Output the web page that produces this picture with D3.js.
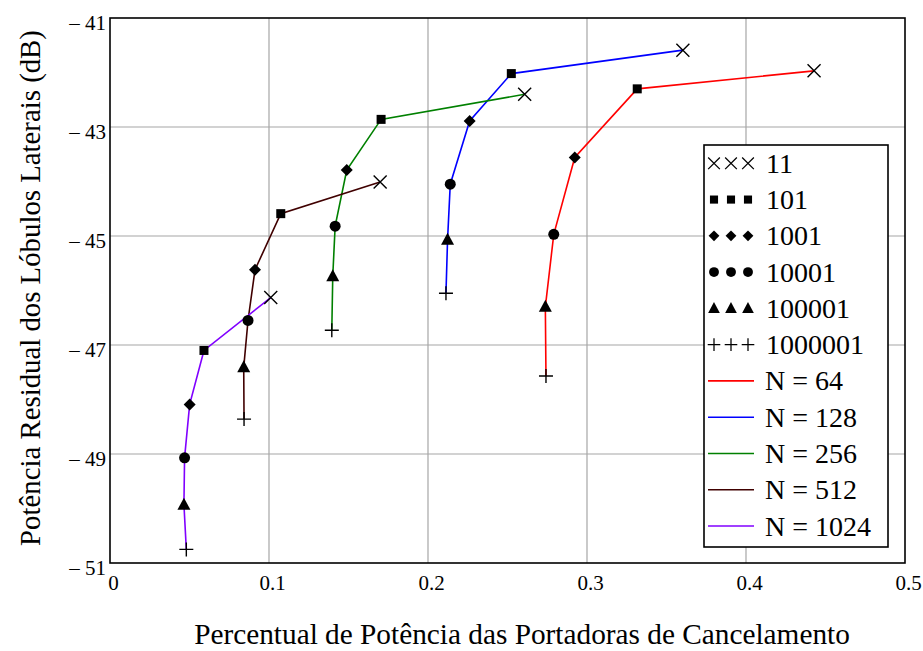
<!DOCTYPE html>
<html><head><meta charset="utf-8">
<script src="https://cdn.jsdelivr.net/npm/d3@7"></script>
<style>body{margin:0;background:#fff;} svg{display:block;}</style>
</head><body>
<script>
// Marker categories (legend)
const markerLabels = ["11", "101", "1001", "10001", "100001", "1000001"];
const markerTypes = ["x", "square", "diamond", "circle", "triangle", "plus"];
// Series
const seriesNames = ["N = 64", "N = 128", "N = 256", "N = 512", "N = 1024"];
const seriesColors = ["#ff0000", "#0000ff", "#008000", "#400000", "#8000ff"];
const xN64 = [0.4428, 0.3316, 0.2923, 0.2791, 0.2738, 0.2742];
const yN64 = [-41.97, -42.30, -43.56, -44.97, -46.30, -47.57];
const xN128 = [0.3603, 0.2524, 0.2262, 0.2140, 0.2123, 0.2113];
const yN128 = [-41.59, -42.02, -42.89, -44.05, -45.07, -46.05];
const xN256 = [0.2608, 0.1705, 0.1489, 0.1416, 0.1401, 0.1395];
const yN256 = [-42.40, -42.86, -43.79, -44.82, -45.74, -46.73];
const xN512 = [0.1699, 0.1074, 0.0912, 0.0868, 0.0841, 0.0843];
const yN512 = [-44.01, -44.59, -45.62, -46.55, -47.41, -48.36];
const xN1024 = [0.1011, 0.0591, 0.0501, 0.0469, 0.0465, 0.0480];
const yN1024 = [-46.13, -47.10, -48.09, -49.07, -49.93, -50.75];
const xTicks = [0, 0.1, 0.2, 0.3, 0.4, 0.5];
const yTicks = [-41, -43, -45, -47, -49, -51];
const xTitle = "Percentual de Potência das Portadoras de Cancelamento";
const yTitle = "Potência Residual dos Lóbulos Laterais (dB)";

const seriesX = [xN64, xN128, xN256, xN512, xN1024];
const seriesY = [yN64, yN128, yN256, yN512, yN1024];

const W = 923, H = 651;
const m = {left: 110, right: 905, top: 18, bottom: 563};
const font = "'Liberation Serif', 'Times New Roman', serif";

const svg = d3.select("body").append("svg").attr("width", W).attr("height", H);
const x = d3.scaleLinear().domain([0, 0.5]).range([m.left, m.right]);
const y = d3.scaleLinear().domain([-51, -41]).range([m.bottom, m.top]);

// grid
const g = svg.append("g");
g.selectAll("line.vg").data(xTicks.slice(1, -1)).join("line")
  .attr("x1", d => x(d)).attr("x2", d => x(d)).attr("y1", m.top).attr("y2", m.bottom)
  .attr("stroke", "#a6a6a6").attr("stroke-width", 1.2);
g.selectAll("line.hg").data(yTicks.slice(1, -1)).join("line")
  .attr("y1", d => y(d)).attr("y2", d => y(d)).attr("x1", m.left).attr("x2", m.right)
  .attr("stroke", "#a6a6a6").attr("stroke-width", 1.2);

// frame
svg.append("rect").attr("x", m.left).attr("y", m.top)
  .attr("width", m.right - m.left).attr("height", m.bottom - m.top)
  .attr("fill", "none").attr("stroke", "#000").attr("stroke-width", 1.6);

// axes
const xAxis = d3.axisBottom(x).tickValues(xTicks).tickSize(0).tickPadding(12)
  .tickFormat(d => d === 0 ? "0" : d3.format(".1f")(d));
const xa = svg.append("g").attr("transform", `translate(3,${m.bottom})`).call(xAxis);
xa.attr("font-family", font);
xa.select(".domain").remove();
xa.selectAll("text").attr("font-family", font).attr("font-size", 21).attr("fill", "#000");

const yAxis = d3.axisLeft(y).tickValues(yTicks).tickSize(0).tickPadding(4)
  .tickFormat(d => "\u2013 " + Math.abs(d));
const ya = svg.append("g").attr("transform", `translate(${m.left},0)`).call(yAxis);
ya.attr("font-family", font);
ya.select(".domain").remove();
ya.selectAll("text").attr("font-family", font).attr("font-size", 21).attr("fill", "#000").attr("dy", "0.55em");

// titles
svg.append("text").attr("x", 522).attr("y", 644)
  .attr("text-anchor", "middle").attr("font-family", font).attr("font-size", 29.3).text(xTitle);
svg.append("text").attr("transform", `translate(40,288) rotate(-90)`)
  .attr("text-anchor", "middle").attr("font-family", font).attr("font-size", 28.8).text(yTitle);

// marker drawing
function drawMarker(sel, type, cx, cy, s) {
  s = s || 1;
  const gg = sel.append("g").attr("transform", `translate(${cx},${cy}) scale(${s})`);
  if (type === "x") {
    gg.append("path").attr("d", "M-6.5,-6.5L6.5,6.5M-6.5,6.5L6.5,-6.5").attr("stroke", "#000").attr("stroke-width", 1.4).attr("fill", "none");
  } else if (type === "square") {
    gg.append("rect").attr("x", -4.5).attr("y", -4.5).attr("width", 9).attr("height", 9).attr("fill", "#000");
  } else if (type === "diamond") {
    gg.append("path").attr("d", "M0,-6L6,0L0,6L-6,0Z").attr("fill", "#000");
  } else if (type === "circle") {
    gg.append("circle").attr("r", 5.5).attr("fill", "#000");
  } else if (type === "triangle") {
    gg.append("path").attr("d", "M0,-7L6.5,5L-6.5,5Z").attr("fill", "#000");
  } else if (type === "plus") {
    gg.append("path").attr("d", "M-7,0L7,0M0,-7L0,7").attr("stroke", "#000").attr("stroke-width", 1.4).attr("fill", "none");
  }
}

// lines
const line = d3.line().x(d => x(d[0])).y(d => y(d[1]));
seriesX.forEach((xs, i) => {
  const pts = xs.map((v, j) => [v, seriesY[i][j]]);
  svg.append("path").datum(pts).attr("d", line).attr("fill", "none")
    .attr("stroke", seriesColors[i]).attr("stroke-width", 1.6);
});
seriesX.forEach((xs, i) => {
  xs.forEach((v, j) => drawMarker(svg, markerTypes[j], x(v), y(seriesY[i][j])));
});

// legend
const lg = svg.append("g");
const lx = 704, ly = 145, lw = 184, lh = 402;
lg.append("rect").attr("x", lx).attr("y", ly).attr("width", lw).attr("height", lh)
  .attr("fill", "#fff").attr("stroke", "#000").attr("stroke-width", 1.6);
const rowH = 36.27, row0 = 163.3;
markerLabels.forEach((lab, i) => {
  const cy = row0 + i * rowH;
  [714, 731, 748].forEach(cx => drawMarker(lg, markerTypes[i], cx, cy, 0.9));
  lg.append("text").attr("x", 766).attr("y", cy + 9.5).attr("font-family", font).attr("font-size", 28).text(lab);
});
seriesNames.forEach((nm, i) => {
  const cy = row0 + (i + 6) * rowH;
  lg.append("line").attr("x1", 708).attr("x2", 754).attr("y1", cy).attr("y2", cy)
    .attr("stroke", seriesColors[i]).attr("stroke-width", 1.6);
  lg.append("text").attr("x", 765).attr("y", cy + 9.5).attr("font-family", font).attr("font-size", 28).text(nm);
});
</script>
</body></html>
